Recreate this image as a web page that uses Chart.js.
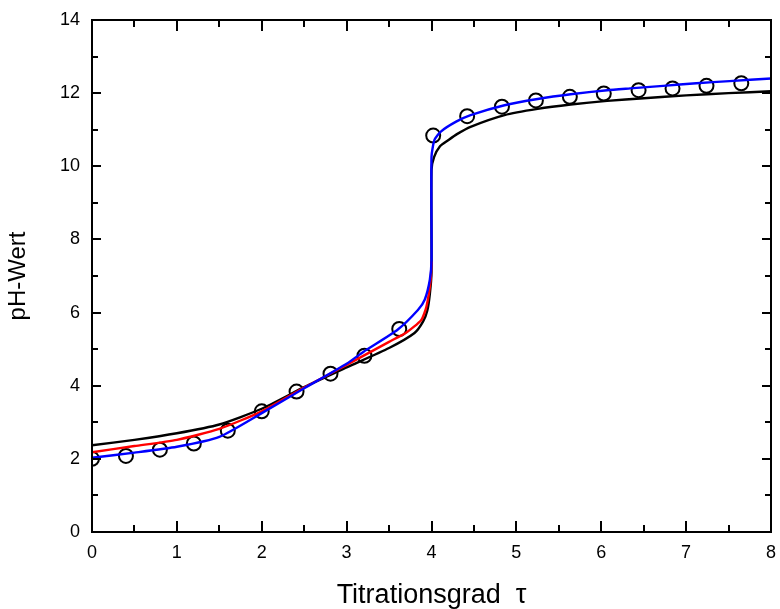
<!DOCTYPE html>
<html>
<head>
<meta charset="utf-8">
<script src="https://cdn.jsdelivr.net/npm/chart.js@4/dist/chart.umd.min.js"></script>
<style>
  html, body { margin: 0; padding: 0; background: #fff; }
  #wrap { width: 780px; height: 609px; }
</style>
</head>
<body>
<div id="wrap"><canvas id="titration"></canvas></div>
<script>
// measured pH values
const measX = [0, 0.4, 0.8, 1.2, 1.6, 2.0, 2.41, 2.81, 3.21, 3.62, 4.02, 4.42, 4.83, 5.23, 5.63, 6.03, 6.44, 6.84, 7.24, 7.65];
const measY = [2.00, 2.08, 2.25, 2.42, 2.77, 3.30, 3.84, 4.33, 4.82, 5.55, 10.84, 11.37, 11.63, 11.80, 11.90, 11.99, 12.08, 12.13, 12.20, 12.27];

// model curves
const blackX = [0, 0.5, 1.0, 1.5, 2.0, 2.5, 3.0, 3.5, 3.8, 3.9, 3.95, 3.98, 4.0, 4.0, 4.03, 4.1, 4.2, 4.3, 4.46, 4.86, 5.25, 5.64, 6.07, 6.5, 7.0, 7.5, 8.0];
const blackY = [2.37, 2.52, 2.70, 2.94, 3.37, 3.96, 4.50, 5.03, 5.44, 5.75, 6.05, 6.50, 7.10, 9.90, 10.25, 10.55, 10.72, 10.88, 11.08, 11.40, 11.57, 11.69, 11.79, 11.86, 11.94, 12.00, 12.05];

const redX = [0, 0.5, 1.0, 1.5, 2.0, 2.5, 3.0, 3.5, 3.7, 3.88, 3.94, 3.99, 4.0];
const redY = [2.18, 2.35, 2.52, 2.82, 3.30, 3.95, 4.57, 5.20, 5.45, 5.80, 6.16, 6.89, 7.40];

const blueX = [0, 0.5, 1.0, 1.5, 2.0, 2.5, 3.0, 3.2, 3.6, 3.84, 3.92, 3.98, 4.0, 4.0, 4.035, 4.11, 4.29, 4.46, 4.86, 5.25, 5.64, 6.07, 6.34, 6.73, 7.12, 7.51, 8.0];
const blueY = [2.03, 2.17, 2.33, 2.60, 3.25, 3.93, 4.60, 4.93, 5.53, 6.07, 6.35, 6.89, 7.44, 10.26, 10.72, 10.95, 11.22, 11.40, 11.67, 11.84, 11.97, 12.08, 12.13, 12.20, 12.27, 12.33, 12.40];

const xTicks = [0, 1, 2, 3, 4, 5, 6, 7, 8];
const yTicks = [0, 2, 4, 6, 8, 10, 12, 14];

const pts = (xs, ys) => xs.map((x, i) => ({ x: x, y: ys[i] }));

function curve(xs, ys, color, order) {
  return {
    data: pts(xs, ys),
    showLine: true,
    borderColor: color,
    borderWidth: 2.4,
    pointRadius: 0,
    tension: 0.2,
    fill: false,
    order: order
  };
}

// box around the plot with inward ticks on all four sides
const frameTicks = {
  id: 'frameTicks',
  afterDatasetsDraw(chart) {
    const { ctx, chartArea: a, scales: { x, y } } = chart;
    ctx.save();
    ctx.strokeStyle = '#000';
    ctx.lineWidth = 2;
    ctx.strokeRect(a.left, a.top, a.right - a.left, a.bottom - a.top);
    ctx.beginPath();
    for (let v = xTicks[0]; v <= xTicks[xTicks.length - 1]; v += 0.5) {
      const px = Math.round(x.getPixelForValue(v));
      const len = Number.isInteger(v) ? 11 : 7;
      ctx.moveTo(px, a.bottom); ctx.lineTo(px, a.bottom - len);
      ctx.moveTo(px, a.top); ctx.lineTo(px, a.top + len);
    }
    for (let v = yTicks[0]; v <= yTicks[yTicks.length - 1]; v += 1) {
      const py = Math.round(y.getPixelForValue(v));
      const len = v % 2 === 0 ? 9 : 6;
      ctx.moveTo(a.left, py); ctx.lineTo(a.left + len, py);
      ctx.moveTo(a.right, py); ctx.lineTo(a.right - len, py);
    }
    ctx.stroke();
    ctx.restore();
  }
};

new Chart(document.getElementById('titration'), {
  type: 'scatter',
  data: {
    datasets: [
      {
        data: pts(measX, measY),
        pointStyle: 'circle',
        pointRadius: 7,
        pointBorderWidth: 2,
        pointBorderColor: '#000',
        pointBackgroundColor: 'rgba(0,0,0,0)',
        showLine: false,
        order: 4
      },
      curve(blackX, blackY, '#000000', 3),
      curve(redX, redY, '#ff0000', 2),
      curve(blueX, blueY, '#0000ff', 1)
    ]
  },
  options: {
    responsive: true,
    maintainAspectRatio: false,
    animation: false,
    layout: { padding: { top: 20, right: 8, left: 0, bottom: 0 } },
    plugins: {
      legend: { display: false },
      tooltip: { enabled: false }
    },
    scales: {
      x: {
        type: 'linear',
        min: 0,
        max: 8,
        afterFit: s => { s.height = 77; s.paddingLeft = 0; s.paddingRight = 0; },
        afterBuildTicks: s => { s.ticks = xTicks.map(v => ({ value: v })); },
        grid: { display: false, drawTicks: false },
        border: { display: false },
        ticks: {
          padding: 10,
          maxRotation: 0,
          color: '#000',
          font: { family: 'Liberation Sans', size: 18 }
        },
        title: {
          display: true,
          text: 'Titrationsgrad  τ',
          color: '#000',
          font: { family: 'Liberation Sans', size: 27, lineHeight: 1.0 },
          padding: { top: 0, bottom: 0 }
        }
      },
      y: {
        type: 'linear',
        min: 0,
        max: 14,
        afterFit: s => { s.width = 92; s.paddingTop = 0; s.paddingBottom = 0; },
        afterBuildTicks: s => { s.ticks = yTicks.map(v => ({ value: v })); },
        grid: { display: false, drawTicks: false },
        border: { display: false },
        ticks: {
          padding: 12,
          color: '#000',
          font: { family: 'Liberation Sans', size: 18 }
        },
        title: {
          display: true,
          text: 'pH-Wert',
          color: '#000',
          font: { family: 'Liberation Sans', size: 24 },
          padding: { top: 4, bottom: 0 }
        }
      }
    }
  },
  plugins: [frameTicks]
});
</script>
</body>
</html>
